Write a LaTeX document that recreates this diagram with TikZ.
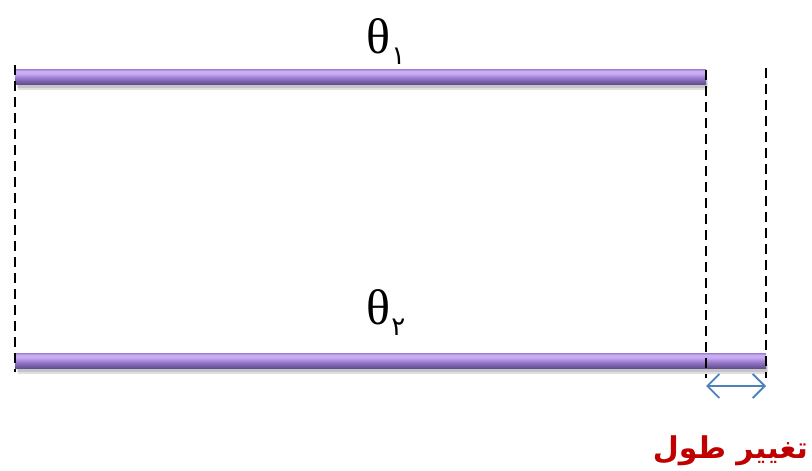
\documentclass[tikz,border=0pt]{standalone}
\usepackage{fontspec}
\setmainfont{Liberation Serif}
\newfontfamily\arabicfont[Script=Arabic]{DejaVu Sans}
\TeXXeTstate=1
\usetikzlibrary{arrows.meta}
\definecolor{rodtop}{HTML}{A88AD8}
\definecolor{rodhi}{HTML}{C8ADF5}
\definecolor{rodmid}{HTML}{9274C6}
\definecolor{rodbot}{HTML}{5E4A8C}
\definecolor{arrowblue}{HTML}{4F81BD}
\definecolor{labelred}{HTML}{C00000}
\pgfdeclareverticalshading{rodshade}{100bp}{color(0bp)=(rodbot); color(25bp)=(rodbot); color(45bp)=(rodmid); color(62bp)=(rodhi); color(70bp)=(rodhi); color(75bp)=(rodtop); color(100bp)=(rodtop)}
\tikzset{
  x=1pt,y=1pt,
  rod/.style={rectangle, inner sep=0pt, minimum height=15pt, shading=rodshade},
  rodshadow/.style={fill=black, opacity=0.12},
  guide/.style={black, line width=2.6pt, dash pattern=on 10pt off 6pt},
  gap/.style={arrowblue, line width=1.8pt, {Straight Barb[length=12pt,width=24pt,line width=1.8pt]}-{Straight Barb[length=12pt,width=24pt,line width=1.8pt]}},
  thlabel/.style={font=\fontsize{50}{54}\selectfont, inner sep=0pt},
  faword/.style={font=\arabicfont\bfseries\fontsize{30}{36}\selectfont, text=labelred, inner sep=0pt}
}
\begin{document}
\begin{tikzpicture}
\useasboundingbox (0,0) rectangle (812,-471);
% dashed guides
\coordinate (g1t) at (15,-65);
\coordinate (g1b) at (15,-372);
\coordinate (g2t) at (706,-70);
\coordinate (g2b) at (706,-378);
\coordinate (g3t) at (766,-68);
\coordinate (g3b) at (766,-378);
% rod shadows
\fill[rodshadow] (17,-80) rectangle (708,-88);
\fill[rodshadow] (18,-82) rectangle (707,-90);
\fill[rodshadow] (17,-364) rectangle (768,-372);
\fill[rodshadow] (18,-366) rectangle (767,-374);
% rods
\node[rod, minimum width=691pt, anchor=west] (rodA) at (15,-77) {};
\node[rod, minimum width=751pt, anchor=west] (rodB) at (15,-361) {};
\draw[guide] (g1t) -- (g1b);
\draw[guide] (g2t) -- (g2b);
\draw[guide] (g3t) -- (g3b);
% gap arrow
\coordinate (aL) at (706,-386);
\coordinate (aR) at (766,-386);
\draw[gap] (aL) -- (aR);
% labels
\node[thlabel] (th1) at (386,-42) {θ\hspace{1pt}\raisebox{-11pt}{\arabicfont\fontsize{26}{28}\selectfont ۱}};
\node[thlabel] (th2) at (386,-313) {θ\hspace{1pt}\raisebox{-11pt}{\arabicfont\fontsize{26}{28}\selectfont ۲}};
\node[faword, anchor=east] (change) at (808,-451) {\beginR تغییر طول\endR};
\end{tikzpicture}
\end{document}
